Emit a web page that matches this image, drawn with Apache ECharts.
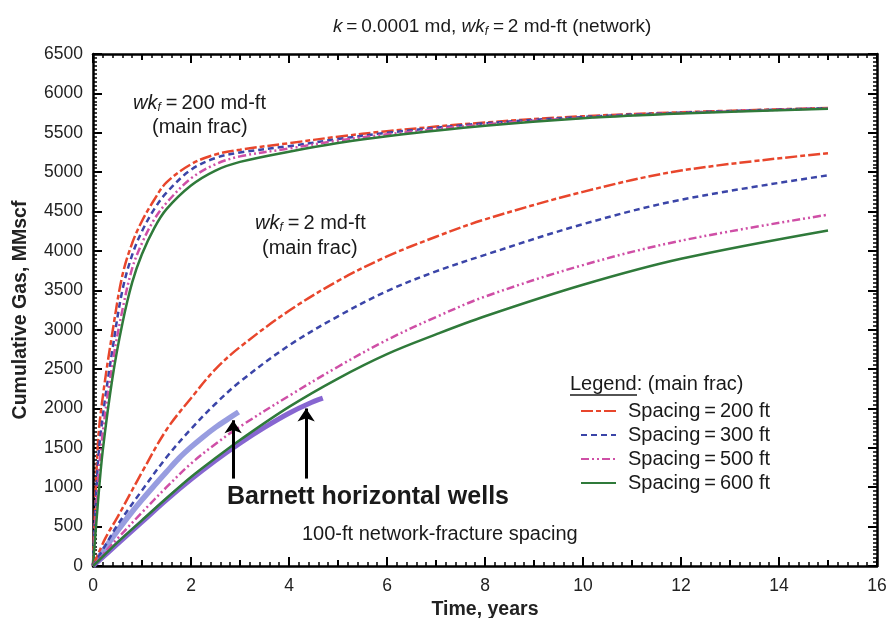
<!DOCTYPE html>
<html>
<head>
<meta charset="utf-8">
<script src="https://cdn.jsdelivr.net/npm/echarts@6/dist/echarts.min.js"></script>
<style>
  html, body { margin: 0; padding: 0; background: #fff; }
  #chart { width: 887px; height: 618px; }
</style>
</head>
<body>
<div id="chart"></div>
<script>
// time grids (years)
var tHigh = [0, 0.1, 0.2, 0.4, 0.6, 0.8, 1, 1.25, 1.5, 2, 2.5, 3, 4, 5, 6, 8, 10, 12, 15];
var tLow = [0, 0.25, 0.5, 1, 1.5, 2, 2.5, 3, 4, 5, 6, 7, 8, 10, 12, 15];

// wkf = 200 md-ft (main frac), cumulative gas MMscf
var red200High = [0, 1550, 2150, 2980, 3690, 4100, 4380, 4650, 4870, 5100, 5225, 5285, 5368, 5450, 5520, 5630, 5710, 5760, 5815];
var blue300High = [0, 1300, 1900, 2760, 3500, 3950, 4250, 4530, 4740, 5030, 5180, 5250, 5330, 5420, 5500, 5620, 5700, 5755, 5812];
var pink500High = [0, 1050, 1700, 2580, 3250, 3780, 4100, 4400, 4610, 4920, 5100, 5200, 5300, 5400, 5480, 5605, 5690, 5750, 5810];
var green600High = [0, 800, 1470, 2400, 3080, 3600, 3960, 4290, 4530, 4830, 5020, 5130, 5260, 5370, 5457, 5590, 5685, 5745, 5805];

// wkf = 2 md-ft (main frac)
var red200Low = [0, 350, 620, 1190, 1730, 2130, 2500, 2780, 3240, 3620, 3930, 4180, 4400, 4750, 5020, 5240];
var blue300Low = [0, 260, 520, 960, 1380, 1740, 2060, 2340, 2800, 3170, 3490, 3740, 3950, 4340, 4650, 4960];
var pink500Low = [0, 180, 350, 680, 1000, 1300, 1550, 1770, 2160, 2530, 2870, 3160, 3420, 3820, 4130, 4460];
var green600Low = [0, 150, 300, 580, 860, 1130, 1370, 1600, 2020, 2380, 2690, 2940, 3170, 3570, 3900, 4260];

// Barnett horizontal wells (field data)
var tBarnettA = [0, 0.25, 0.5, 0.75, 1, 1.25, 1.5, 1.75, 2, 2.25, 2.5, 2.75, 2.97];
var barnettA = [0, 230, 445, 650, 840, 1020, 1195, 1365, 1510, 1640, 1760, 1865, 1955];
var tBarnettB = [0, 0.5, 1, 1.5, 2, 2.5, 3, 3.5, 4, 4.4, 4.69];
var barnettB = [0, 280, 560, 840, 1100, 1340, 1560, 1760, 1940, 2060, 2130];

// arrows pointing at the well data
var arrowTimes = [2.86, 4.35];
var arrowTips = [1850, 2000];
var arrowBase = 1110;

var EQ = "\u2009=\u2009";
var spacingNames = ["Spacing" + EQ + "200 ft", "Spacing" + EQ + "300 ft", "Spacing" + EQ + "500 ft", "Spacing" + EQ + "600 ft"];

var FONT = "Liberation Sans, Arial, sans-serif";

function pair(t, v) {
  return t.map(function (x, i) { return [x, v[i]]; });
}

function curve(name, t, v, color, dash) {
  return {
    name: name,
    type: "line",
    data: pair(t, v),
    symbol: "none",
    smooth: 0.35,
    z: 3,
    itemStyle: { color: color },
    lineStyle: { color: color, width: 2.5, type: dash },
  };
}

var styles = [
  ["#e8462c", [12, 3, 5, 3]],
  ["#3b45a8", [6, 4]],
  ["#cf4fa6", [8, 3, 2, 3, 2, 3]],
  ["#2f7a3a", "solid"],
];

var series = [];
[red200High, blue300High, pink500High, green600High].forEach(function (v, i) {
  series.push(curve(spacingNames[i], tHigh, v, styles[i][0], styles[i][1]));
});
[red200Low, blue300Low, pink500Low, green600Low].forEach(function (v, i) {
  series.push(curve(spacingNames[i], tLow, v, styles[i][0], styles[i][1]));
});

series.push({
  name: "Barnett A",
  type: "line",
  data: pair(tBarnettA, barnettA),
  symbol: "none",
  smooth: 0.35,
  z: 2,
  lineStyle: { color: "#8d92dd", width: 5.5, opacity: 0.9 },
});
series.push({
  name: "Barnett B",
  type: "line",
  data: pair(tBarnettB, barnettB),
  symbol: "none",
  smooth: 0.35,
  z: 2,
  lineStyle: { color: "#7a55cc", width: 5, opacity: 0.9 },
  markLine: {
    silent: true,
    symbol: ["none", "arrow"],
    symbolSize: 13,
    label: { show: false },
    lineStyle: { color: "#000", width: 3, type: "solid" },
    data: arrowTimes.map(function (t, i) {
      return [{ coord: [t, arrowBase] }, { coord: [t, arrowTips[i]] }];
    }),
  },
});

var tickStyle = { color: "#000", width: 2 };
var minorStyle = { color: "#000", width: 1.5 };
var nameStyle = { fontSize: 19.5, fontWeight: "bold", color: "#222", fontFamily: FONT };

function xAx(pos, interval, major) {
  return {
    type: "value",
    position: pos,
    min: 0,
    max: 16,
    interval: interval,
    axisLine: { show: major, onZero: false, lineStyle: { color: "#000", width: 2.5 } },
    axisTick: { show: true, inside: true, length: major ? 9 : 6, lineStyle: tickStyle },
    minorTick: { show: major, splitNumber: 10, length: 4, lineStyle: minorStyle },
    axisLabel: {
      show: major && pos === "bottom",
      margin: 11,
      fontSize: 17.5,
      color: "#222",
      fontFamily: FONT,
    },
    splitLine: { show: false },
    name: major && pos === "bottom" ? "Time, years" : "",
    nameLocation: "middle",
    nameGap: 31,
    nameTextStyle: nameStyle,
  };
}

function yAx(pos) {
  return {
    type: "value",
    position: pos,
    min: 0,
    max: 6500,
    interval: 500,
    axisLine: { show: true, onZero: false, lineStyle: { color: "#000", width: 2.5 } },
    axisTick: { show: true, inside: true, length: 9, lineStyle: tickStyle },
    minorTick: { show: true, splitNumber: 10, length: 4, lineStyle: minorStyle },
    axisLabel: {
      show: pos === "left",
      margin: 10,
      fontSize: 17.5,
      color: "#222",
      fontFamily: FONT,
      formatter: function (v) { return String(v); },
    },
    splitLine: { show: false },
    name: pos === "left" ? "Cumulative Gas, MMscf" : "",
    nameLocation: "middle",
    nameGap: 62,
    nameTextStyle: nameStyle,
  };
}

function richSet(size) {
  return {
    i: { fontSize: size, fontStyle: "italic", fontWeight: "normal", fontFamily: FONT, color: "#1a1a1a" },
    n: { fontSize: size, fontWeight: "normal", fontFamily: FONT, color: "#1a1a1a" },
    s: { fontSize: Math.round(size * 0.62), fontStyle: "italic", fontWeight: "normal", fontFamily: FONT, color: "#1a1a1a", padding: [Math.round(size * 0.5), 1, 0, 0] },
  };
}

function label(x, y, text, size, bold) {
  return {
    type: "text",
    x: x,
    y: y,
    z: 10,
    style: {
      text: text,
      fill: "#1a1a1a",
      font: (bold ? "bold " : "") + size + "px " + FONT,
      verticalAlign: "middle",
    },
  };
}

function richLabel(x, y, text, size) {
  return {
    type: "text",
    x: x,
    y: y,
    z: 10,
    style: {
      text: text,
      fill: "#1a1a1a",
      font: size + "px " + FONT,
      verticalAlign: "middle",
      rich: richSet(size),
    },
  };
}

var chart = echarts.init(document.getElementById("chart"));
chart.setOption({
  backgroundColor: "#fff",
  animation: false,
  title: {
    text: "{i|k}{n|" + EQ + "0.0001 md, }{i|wk}{s|f}{n|" + EQ + "2 md-ft (network)}",
    left: 328,
    top: 11,
    textStyle: { fontWeight: "normal", rich: richSet(19) },
  },
  grid: { left: 93, right: 10, top: 54, bottom: 52, outerBoundsMode: "none" },
  xAxis: [xAx("bottom", 2, true), xAx("bottom", 1, false), xAx("top", 2, true), xAx("top", 1, false)],
  yAxis: [yAx("left"), yAx("right")],
  legend: {
    data: spacingNames,
    orient: "vertical",
    left: 575,
    top: 396,
    itemWidth: 35,
    itemHeight: 14,
    itemGap: 4,
    selectedMode: false,
    itemStyle: { opacity: 0 },
    textStyle: { fontSize: 20, fontFamily: FONT, color: "#1a1a1a", padding: [0, 0, 0, 7] },
  },
  graphic: [
    richLabel(133, 103, "{i|wk}{s|f}{n|" + EQ + "200 md-ft}", 20),
    label(152, 127, "(main frac)", 20),
    richLabel(255, 223, "{i|wk}{s|f}{n|" + EQ + "2 md-ft}", 20),
    label(262, 248, "(main frac)", 20),
    label(227, 497, "Barnett horizontal wells", 25, true),
    label(302, 534, "100-ft network-fracture spacing", 20),
    label(570, 384, "Legend: (main frac)", 20),
    {
      type: "line",
      z: 10,
      shape: { x1: 570, y1: 395, x2: 637, y2: 395 },
      style: { stroke: "#1a1a1a", lineWidth: 1.3 },
    },
  ],
  series: series,
});
</script>
</body>
</html>
